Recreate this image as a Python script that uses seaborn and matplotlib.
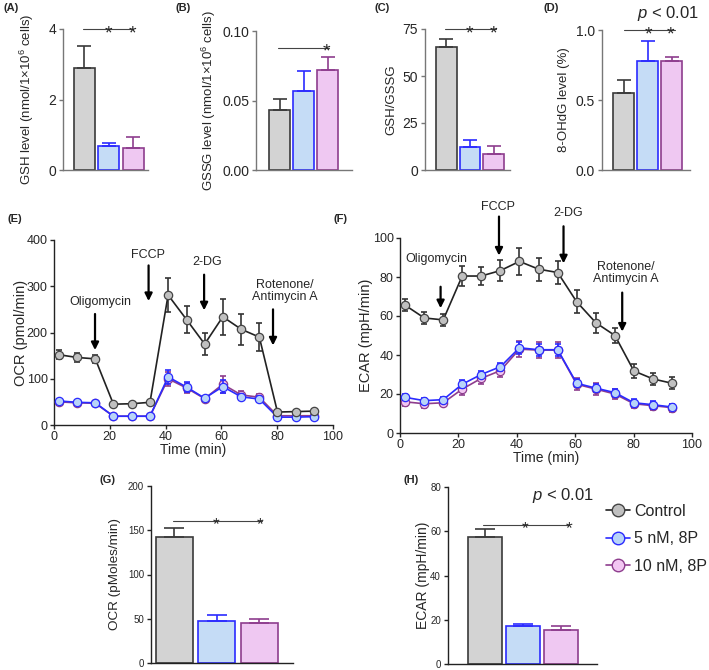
import matplotlib
matplotlib.use("Agg")
import matplotlib.pyplot as plt
from matplotlib.lines import Line2D
import seaborn as sns

# ---- data ----
groups = ["Control", "5 nM, 8P", "10 nM, 8P"]

gsh_mean = [2.88, 0.69, 0.62]
gsh_err = [0.63, 0.08, 0.31]
gssg_mean = [0.043, 0.057, 0.072]
gssg_err = [0.008, 0.014, 0.009]
ratio_mean = [65.5, 12.5, 8.5]
ratio_err = [4.0, 3.5, 4.5]
ohdg_mean = [0.55, 0.78, 0.78]
ohdg_err = [0.09, 0.14, 0.03]
ocr_bar_mean = [142, 48, 45]
ocr_bar_err = [11, 6, 5]
ecar_bar_mean = [57.5, 17.0, 15.3]
ecar_bar_err = [3.5, 1.3, 2.0]

time_min = [1.7, 8.3, 14.8, 21.3, 27.8, 34.4, 40.9, 47.5, 54.0, 60.5, 67.1, 73.6, 80.1, 86.7, 93.2]
ocr_ctrl = [152, 146, 143, 45, 46, 49, 281, 228, 175, 234, 207, 190, 28, 29, 30]
ocr_ctrl_err = [10, 9, 9, 3, 3, 3, 37, 30, 23, 39, 33, 30, 4, 4, 4]
ocr_5nm = [52, 49, 48, 19, 19, 19, 104, 82, 58, 83, 61, 56, 17, 17, 18]
ocr_5nm_err = [5, 4, 4, 2, 2, 2, 15, 10, 4, 14, 7, 7, 3, 4, 8]
ocr_10nm = [50, 48, 47, 19, 19, 19, 100, 80, 57, 88, 65, 60, 20, 20, 20]
ocr_10nm_err = [4, 4, 4, 2, 2, 2, 15, 10, 4, 18, 8, 8, 3, 4, 5]

ecar_ctrl = [65.6, 59, 58, 80.5, 80.5, 83.3, 88, 84, 82.3, 67.3, 56.5, 50, 31.8, 27.7, 25.5]
ecar_ctrl_err = [3, 3, 3, 5, 4.5, 5.5, 7, 6, 6, 6, 5, 4, 3.5, 3, 3]
ecar_5nm = [18.3, 16.6, 17.1, 25, 30, 34, 43.7, 42.7, 42.7, 25.5, 23, 20.7, 15.5, 14.5, 13.3]
ecar_5nm_err = [1.5, 1.5, 1.5, 2, 2, 2, 3, 3, 3, 2, 2, 2, 2, 2, 1.5]
ecar_10nm = [16, 15, 15.5, 22.5, 28, 32, 43, 42.5, 42.5, 25, 22.5, 20, 15, 14, 13]
ecar_10nm_err = [2, 2, 1.5, 3, 3, 3.5, 4, 4, 4, 3, 3, 2.5, 2, 2, 2]

# ---- style ----
fills = ["#d3d3d3", "#c5dcf6", "#efc8f2"]
edges = ["#3a3a3a", "#2b2bff", "#8e3d8e"]
marker_fills = ["#c0c0c0", "#b8d4f8", "#f2c6f2"]

sns.set_theme(style="ticks")
plt.rcParams["font.family"] = ["Liberation Sans", "DejaVu Sans"]
plt.rcParams["mathtext.fontset"] = "custom"
plt.rcParams["mathtext.rm"] = "Liberation Sans"
plt.rcParams["mathtext.it"] = "Liberation Sans:italic"
plt.rcParams["axes.linewidth"] = 1.0
plt.rcParams["axes.edgecolor"] = "#222222"

W, H = 709, 670
fig = plt.figure(figsize=(W / 100, H / 100), dpi=100)


def add_ax(left, right, top, bottom):
    ax = fig.add_axes([left / W, 1 - bottom / H, (right - left) / W, (bottom - top) / H])
    ax._px = (left, right)
    return ax


def place_ylabel(ax, x_px):
    left, right = ax._px
    ax.yaxis.set_label_coords((x_px - left) / (right - left), 0.5)


def bar_panel(ax, means, errs, width, xlim, ylim, yticks, ylabel, tick_fs, label_fs, cap,
              label_x, spine_col="#222222"):
    sns.barplot(x=groups, y=means, hue=groups, palette=fills, saturation=1,
                width=width, legend=False, ax=ax, errorbar=None)
    for patch, ec in zip(ax.patches, edges):
        patch.set_edgecolor(ec)
        patch.set_linewidth(1.2)
    for i, (m, e) in enumerate(zip(means, errs)):
        ax.errorbar(i, m, yerr=[[0], [e]], fmt="none", ecolor=edges[i],
                    elinewidth=1.2, capsize=cap, capthick=1.2, zorder=1)
    ax.set_xlim(*xlim)
    ax.set_ylim(*ylim)
    ax.set_yticks(yticks)
    ax.set_xticks([])
    ax.set_xlabel("")
    ax.set_ylabel(ylabel, fontsize=label_fs)
    place_ylabel(ax, label_x)
    ax.tick_params(axis="y", labelsize=tick_fs, length=3, width=1, pad=2, color=spine_col)
    sns.despine(ax=ax)
    for side in ("left", "bottom"):
        ax.spines[side].set_color(spine_col)


def sig(ax, x0, x1, y, stars, fs=14):
    ax.plot([x0, x1], [y, y], color="#444444", lw=0.8, clip_on=False)
    for sx in stars:
        ax.annotate("*", xy=(sx, y), xytext=(0, -0.23 * fs), textcoords="offset points",
                    ha="center", va="center", fontsize=fs, annotation_clip=False)


def panel_label(x, y, s):
    fig.text(x / W, 1 - y / H, s, fontsize=8, fontweight="bold", va="center")


# (A)
ax_a = add_ax(63, 148, 29, 170)
bar_panel(ax_a, gsh_mean, gsh_err, 0.86, (-0.86, 2.61), (0, 4), [0, 2, 4],
          "GSH level (nmol/1×10$^6$ cells)", 10, 9.5, 5, 35.5, "#777777")
sig(ax_a, -0.04, 2.0, 4.0, [0.98, 1.96])
panel_label(3, 8, "(A)")

# (B)
ax_b = add_ax(256, 352, 31, 170)
bar_panel(ax_b, gssg_mean, gssg_err, 0.875, (-0.98, 3.0), (0, 0.10), [0.00, 0.05, 0.10],
          "GSSG level (nmol/1×10$^6$ cells)", 10, 9.5, 5, 217.5, "#777777")
ax_b.set_yticklabels(["0.00", "0.05", "0.10"])
sig(ax_b, -0.05, 2.03, 0.088, [1.94])
panel_label(175, 8, "(B)")

# (C)
ax_c = add_ax(425, 510, 29, 170)
bar_panel(ax_c, ratio_mean, ratio_err, 0.875, (-0.89, 2.68), (0, 75), [0, 25, 50, 75],
          "GSH/GSSG", 10, 9.5, 5, 397.5, "#777777")
sig(ax_c, -0.05, 2.1, 75, [0.99, 1.97])
panel_label(375, 8, "(C)")

# (D)
ax_d = add_ax(602, 690, 30, 170)
bar_panel(ax_d, ohdg_mean, ohdg_err, 0.875, (-0.9, 2.76), (0, 1.0), [0.0, 0.5, 1.0],
          "8-OHdG level (%)", 10, 9.5, 5, 570.5, "#777777")
sig(ax_d, 0.0, 2.13, 1.0, [1.02, 1.95])
ax_d.text(1.85, 1.12, "$p$ < 0.01", ha="center", va="center", fontsize=12, clip_on=False)
panel_label(543, 8, "(D)")


def line_panel(ax, series, errs, ylim, yticks, ylabel, label_x):
    for k in [2, 1, 0]:
        line_col = edges[k] if k else "#222222"
        ax.errorbar(time_min, series[k], yerr=errs[k], fmt="none",
                    ecolor=edges[k] if k else "#333333",
                    elinewidth=1.2, capsize=2.5, capthick=1.2, zorder=2 + (2 - k))
        sns.lineplot(x=time_min, y=series[k], ax=ax, color=line_col,
                     lw=1.2, marker="o", markersize=6, markerfacecolor=marker_fills[k],
                     markeredgecolor=edges[k] if k else "#444444", markeredgewidth=0.9,
                     errorbar=None, zorder=3 + (2 - k))
    ax.set_xlim(0, 100)
    ax.set_ylim(*ylim)
    ax.set_xticks([0, 20, 40, 60, 80, 100])
    ax.set_yticks(yticks)
    ax.set_xlabel("Time (min)", fontsize=10, labelpad=0)
    ax.set_ylabel(ylabel, fontsize=10.5)
    place_ylabel(ax, label_x)
    ax.tick_params(labelsize=9, length=3, width=1, pad=1.5)
    sns.despine(ax=ax)


def arrow(ax, x, y0, y1, label, tx, ty):
    ax.annotate("", xy=(x, y1), xytext=(x, y0), annotation_clip=False,
                arrowprops=dict(arrowstyle="-|>", color="black", lw=1.6, mutation_scale=11,
                                shrinkA=0, shrinkB=0))
    ax.text(tx, ty, label, ha="center", va="center", fontsize=9, linespacing=1.05, clip_on=False)


# (E)
ax_e = add_ax(54, 333, 240, 425)
line_panel(ax_e, [ocr_ctrl, ocr_5nm, ocr_10nm], [ocr_ctrl_err, ocr_5nm_err, ocr_10nm_err],
           (0, 400), [0, 100, 200, 300, 400], "OCR (pmol/min)", 28)
arrow(ax_e, 14.7, 240, 162, "Oligomycin", 16.6, 265)
arrow(ax_e, 33.9, 345, 268, "FCCP", 33.7, 368)
arrow(ax_e, 53.8, 325, 248, "2-DG", 55.0, 353)
arrow(ax_e, 78.5, 250, 172, "Rotenone/\nAntimycin A", 82.8, 290)
panel_label(8, 219, "(E)")

# (F)
ax_f = add_ax(400, 692, 238, 433)
line_panel(ax_f, [ecar_ctrl, ecar_5nm, ecar_10nm], [ecar_ctrl_err, ecar_5nm_err, ecar_10nm_err],
           (0, 100), [0, 20, 40, 60, 80, 100], "ECAR (mpH/min)", 373)
arrow(ax_f, 13.9, 75, 64, "Oligomycin", 12.6, 89)
arrow(ax_f, 33.9, 111, 91, "FCCP", 33.6, 116)
arrow(ax_f, 56.0, 106, 87, "2-DG", 57.6, 113)
arrow(ax_f, 76.1, 72, 52, "Rotenone/\nAntimycin A", 77.4, 82)
panel_label(333, 219, "(F)")

# (G)
ax_g = add_ax(151, 293, 486, 663)
bar_panel(ax_g, ocr_bar_mean, ocr_bar_err, 0.87, (-0.553, 2.79), (0, 200), [0, 50, 100, 150, 200],
          "OCR (pMoles/min)", 7, 9.7, 7, 121)
sig(ax_g, -0.04, 2.06, 161, [0.99, 2.01], fs=12.5)
panel_label(100, 480, "(G)")

# (H)
ax_h = add_ax(448, 597, 487, 664)
bar_panel(ax_h, ecar_bar_mean, ecar_bar_err, 0.9, (-0.97, 2.95), (0, 80), [0, 20, 40, 60, 80],
          "ECAR (mpH/min)", 7, 10, 7, 430)
sig(ax_h, -0.05, 2.21, 63, [1.05, 2.21], fs=12.5)
ax_h.text(2.05, 76, "$p$ < 0.01", ha="center", va="center", fontsize=12, clip_on=False)
panel_label(403, 480, "(H)")

# legend
handles = [Line2D([0], [0], color=edges[k] if k else "#222222", lw=1.2, marker="o", markersize=9,
                  markerfacecolor=marker_fills[k],
                  markeredgecolor=edges[k] if k else "#444444")
           for k in range(3)]
fig.legend(handles, groups, loc="upper left", bbox_to_anchor=(606 / W, 1 - 504 / H),
           frameon=False, fontsize=11.5, handlelength=1.5, handletextpad=0.25,
           labelspacing=0.78, borderpad=0, borderaxespad=0)

fig.savefig("out.png", dpi=100)
